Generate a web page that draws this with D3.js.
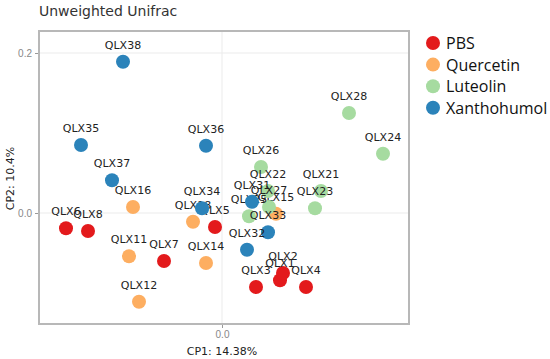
<!DOCTYPE html>
<html>
<head>
<meta charset="utf-8">
<script src="https://cdn.jsdelivr.net/npm/d3@7"></script>
<style>
  body { margin: 0; background: #fff; }
  svg { font-family: "DejaVu Sans", Verdana, sans-serif; }
</style>
</head>
<body>
<div id="chart"></div>
<script>
// groups, in legend order
var groupNames = ["PBS", "Quercetin", "Luteolin", "Xanthohumol"];
var groupColors = ["#e31a1c", "#fdae61", "#a6dba0", "#2b83ba"];

// samples
var sampleIds = ["QLX1", "QLX2", "QLX3", "QLX4", "QLX5", "QLX6", "QLX7", "QLX8",
  "QLX11", "QLX12", "QLX14", "QLX15", "QLX16", "QLX18",
  "QLX21", "QLX22", "QLX23", "QLX24", "QLX25", "QLX26", "QLX27", "QLX28",
  "QLX31", "QLX32", "QLX33", "QLX34", "QLX35", "QLX36", "QLX37", "QLX38"];
var sampleGroup = ["PBS", "PBS", "PBS", "PBS", "PBS", "PBS", "PBS", "PBS",
  "Quercetin", "Quercetin", "Quercetin", "Quercetin", "Quercetin", "Quercetin",
  "Luteolin", "Luteolin", "Luteolin", "Luteolin", "Luteolin", "Luteolin", "Luteolin", "Luteolin",
  "Xanthohumol", "Xanthohumol", "Xanthohumol", "Xanthohumol", "Xanthohumol", "Xanthohumol", "Xanthohumol", "Xanthohumol"];
var cp1 = [0.145, 0.1525, 0.085, 0.21, -0.0175, -0.39, -0.145, -0.335,
  -0.2325, -0.2075, -0.04, 0.135, -0.2225, -0.0725,
  0.2475, 0.115, 0.2325, 0.4025, 0.0675, 0.0975, 0.1175, 0.3175,
  0.075, 0.0625, 0.115, -0.05, -0.3525, -0.04, -0.275, -0.2475];
var cp2 = [-0.084, -0.075, -0.0925, -0.0925, -0.0175, -0.019, -0.06, -0.0225,
  -0.054, -0.111, -0.0625, -0.001, 0.0075, -0.011,
  0.0275, 0.0275, 0.006, 0.074, -0.004, 0.0575, 0.0075, 0.125,
  0.014, -0.046, -0.024, 0.006, 0.085, 0.084, 0.041, 0.189];

var xTicks = [0.0];
var yTicks = [0.0, 0.2];

var svgWidth = 550;
var svgHeight = 359;
var margin = { top: 31, right: 141, bottom: 35, left: 39 };
var width = svgWidth - margin.left - margin.right;
var height = svgHeight - margin.top - margin.bottom;

var svg = d3.select("#chart")
  .append("svg")
  .attr("width", svgWidth)
  .attr("height", svgHeight);

var chartGroup = svg.append("g")
  .attr("transform", `translate(${margin.left}, ${margin.top})`);

var xScale = d3.scaleLinear().domain([-0.4575, 0.4675]).range([0, width]);
var yScale = d3.scaleLinear().domain([-0.13875, 0.2275]).range([height, 0]);
var color = d3.scaleOrdinal().domain(groupNames).range(groupColors);

// gridlines
chartGroup.selectAll("line.gx")
  .data(xTicks).enter().append("line")
  .attr("x1", d => xScale(d)).attr("x2", d => xScale(d))
  .attr("y1", 0).attr("y2", height)
  .attr("stroke", "#ebebeb").attr("stroke-width", 1);
chartGroup.selectAll("line.gy")
  .data(yTicks).enter().append("line")
  .attr("y1", d => yScale(d)).attr("y2", d => yScale(d))
  .attr("x1", 0).attr("x2", width)
  .attr("stroke", "#ebebeb").attr("stroke-width", 1);

// axes
var bottomAxis = d3.axisBottom(xScale).tickValues(xTicks).tickFormat(d3.format(".1f")).tickSize(4);
var leftAxis = d3.axisLeft(yScale).tickValues(yTicks).tickFormat(d3.format(".1f")).tickSize(4);

var xAxis = chartGroup.append("g")
  .attr("transform", `translate(0, ${height})`)
  .call(bottomAxis);
var yAxis = chartGroup.append("g").call(leftAxis);

[xAxis, yAxis].forEach(function(ax) {
  ax.select(".domain").remove();
  ax.selectAll("line").attr("stroke", "#999");
  ax.selectAll("text").attr("fill", "#888").attr("font-size", "10px");
});

// panel border
chartGroup.append("rect")
  .attr("width", width).attr("height", height)
  .attr("fill", "none").attr("stroke", "#b8b8b8").attr("stroke-width", 2);

// points + labels, one group after the other
var samples = sampleIds.map((id, i) => ({ id: id, group: sampleGroup[i], x: cp1[i], y: cp2[i] }));

groupNames.forEach(function(g) {
  var rows = samples.filter(d => d.group === g);
  var layer = chartGroup.append("g");
  layer.selectAll("circle")
    .data(rows).enter().append("circle")
    .attr("cx", d => xScale(d.x))
    .attr("cy", d => yScale(d.y))
    .attr("r", 7)
    .attr("fill", color(g));
  layer.selectAll("text")
    .data(rows).enter().append("text")
    .attr("x", d => xScale(d.x))
    .attr("y", d => yScale(d.y) - 13)
    .attr("text-anchor", "middle")
    .attr("font-size", "11px")
    .attr("fill", "#222")
    .text(d => d.id);
});

// title
svg.append("text")
  .attr("x", 39).attr("y", 16)
  .attr("font-size", "14px")
  .attr("fill", "#333")
  .text("Unweighted Unifrac");

// axis titles
svg.append("text")
  .attr("x", margin.left + xScale(0))
  .attr("y", 355)
  .attr("text-anchor", "middle")
  .attr("font-size", "11px")
  .attr("fill", "#222")
  .text("CP1: 14.38%");

svg.append("text")
  .attr("transform", `translate(14, ${margin.top + height / 2 + 1}) rotate(-90)`)
  .attr("text-anchor", "middle")
  .attr("font-size", "11px")
  .attr("fill", "#222")
  .text("CP2: 10.4%");

// legend
var legend = svg.append("g").attr("transform", "translate(433, 43)");
groupNames.forEach(function(g, i) {
  legend.append("circle")
    .attr("cx", 0).attr("cy", i * 21.6)
    .attr("r", 7)
    .attr("fill", color(g));
  legend.append("text")
    .attr("x", 13).attr("y", i * 21.6 + 6)
    .attr("font-family", "'Open Sans', sans-serif")
    .attr("font-size", "16px")
    .attr("fill", "#111")
    .text(g);
});
</script>
</body>
</html>
